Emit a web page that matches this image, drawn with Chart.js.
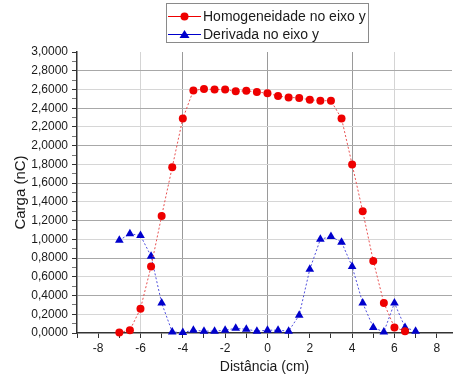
<!DOCTYPE html>
<html>
<head>
<meta charset="utf-8">
<script src="https://cdn.jsdelivr.net/npm/chart.js@4"></script>
<style>
  html, body { margin: 0; padding: 0; background: #fff; }
  #wrap { width: 455px; height: 378px; position: relative; }
</style>
</head>
<body>
<div id="wrap"><canvas id="c" width="455" height="378"></canvas></div>
<script>
// ---- data ----
const distanciaHomog = [-7,-6.5,-6,-5.5,-5,-4.5,-4,-3.5,-3,-2.5,-2,-1.5,-1,-0.5,0,0.5,1,1.5,2,2.5,3,3.5,4,4.5,5,5.5,6,6.5];
const homogeneidade = [0.005,0.03,0.26,0.71,1.25,1.77,2.29,2.59,2.605,2.60,2.60,2.58,2.585,2.573,2.56,2.53,2.515,2.51,2.49,2.48,2.48,2.29,1.80,1.30,0.77,0.32,0.06,0.02];
const distanciaDeriv = [-7,-6.5,-6,-5.5,-5,-4.5,-4,-3.5,-3,-2.5,-2,-1.5,-1,-0.5,0,0.5,1,1.5,2,2.5,3,3.5,4,4.5,5,5.5,6,6.5,7];
const derivada = [0.99,1.06,1.04,0.82,0.32,0.01,0.005,0.03,0.02,0.02,0.03,0.05,0.04,0.02,0.03,0.03,0.02,0.19,0.68,1.00,1.03,0.97,0.71,0.32,0.06,0.01,0.32,0.06,0.02];
const seriesNames = ['Homogeneidade no eixo y', 'Derivada no eixo y'];
const xTitle = 'Distância (cm)';
const yTitle = 'Carga (nC)';

const RED = '#ee0000', BLUE = '#0000cc';
const FONT = '"Liberation Sans", Arial, sans-serif';
const X_MIN = -9, X_MAX = 8.72;

function pts(xs, ys) { return xs.map((x, i) => ({ x: x, y: ys[i] })); }

const legendPlugin = {
  id: 'boxLegend',
  afterDraw(chart) {
    const ctx = chart.ctx;
    ctx.save();
    ctx.strokeStyle = '#8a8a8a';
    ctx.lineWidth = 1;
    ctx.strokeRect(166.5, 3.5, 202, 39);
    const rows = [
      { y: 16, color: RED, style: 'circle', text: seriesNames[0] },
      { y: 34, color: BLUE, style: 'triangle', text: seriesNames[1] }
    ];
    rows.forEach(r => {
      ctx.strokeStyle = r.color;
      ctx.lineWidth = 1;
      ctx.beginPath(); ctx.moveTo(168, r.y + 0.5); ctx.lineTo(201, r.y + 0.5); ctx.stroke();
      ctx.fillStyle = r.color;
      ctx.beginPath();
      if (r.style === 'circle') {
        ctx.arc(184.5, r.y + 0.5, 4, 0, Math.PI * 2);
      } else {
        ctx.moveTo(184.5, r.y - 4);
        ctx.lineTo(189.5, r.y + 4);
        ctx.lineTo(179.5, r.y + 4);
        ctx.closePath();
      }
      ctx.fill();
      ctx.fillStyle = '#1a1a1a';
      ctx.font = '14px ' + FONT;
      ctx.textBaseline = 'middle';
      ctx.textAlign = 'left';
      ctx.fillText(r.text, 203, r.y + 1);
    });
    ctx.restore();
  }
};

new Chart(document.getElementById('c'), {
  type: 'scatter',
  data: {
    datasets: [
      {
        label: seriesNames[0],
        data: pts(distanciaHomog, homogeneidade),
        showLine: true,
        borderColor: '#e85050',
        borderWidth: 1,
        borderDash: [2, 2],
        backgroundColor: RED,
        pointBackgroundColor: RED,
        pointBorderColor: RED,
        pointStyle: 'circle',
        pointRadius: 4,
        pointBorderWidth: 0,
        clip: false
      },
      {
        label: seriesNames[1],
        data: pts(distanciaDeriv, derivada),
        showLine: true,
        borderColor: '#5050dd',
        borderWidth: 1,
        borderDash: [2, 2],
        backgroundColor: BLUE,
        pointBackgroundColor: BLUE,
        pointBorderColor: BLUE,
        pointStyle: 'triangle',
        pointRadius: 5,
        pointBorderWidth: 0,
        clip: false
      }
    ]
  },
  options: {
    responsive: false,
    animation: false,
    layout: { autoPadding: false, padding: { top: 52, left: 0, right: 0, bottom: 0 } },
    plugins: { legend: { display: false }, tooltip: { enabled: false } },
    scales: {
      x: {
        type: 'linear',
        min: X_MIN, max: X_MAX,
        afterFit(s) { s.height = 45; },
        afterBuildTicks(s) {
          const t = [];
          for (let v = -9; v <= 8; v++) t.push({ value: v });
          t.push({ value: X_MAX });
          s.ticks = t;
        },
        border: { display: true, color: '#333', width: 1.5 },
        grid: {
          drawTicks: true,
          tickLength: 5,
          tickColor(c) {
            const v = c.tick ? c.tick.value : null;
            return Number.isInteger(v) ? '#333' : 'rgba(0,0,0,0)';
          },
          lineWidth: 1,
          color(c) {
            const v = c.tick ? c.tick.value : null;
            if (v === -4 || v === 0 || v === 4) return '#9a9a9a';
            if (v === -6 || v === 6) return '#d4d4d4';
            return 'rgba(0,0,0,0)';
          },
          borderDash: [1, 2]
        },
        ticks: {
          autoSkip: false, maxRotation: 0, padding: 3,
          color: '#1a1a1a',
          font: { family: FONT, size: 12 },
          callback(v) { return (Number.isInteger(v) && v % 2 === 0) ? String(v) : ''; }
        },
        title: {
          display: true, text: xTitle, color: '#1a1a1a',
          font: { family: FONT, size: 14 },
          padding: { top: 2, bottom: 2 }
        }
      },
      y: {
        min: 0, max: 3,
        afterFit(s) { s.width = 77; },
        afterBuildTicks(s) {
          const t = [];
          for (let i = 0; i <= 30; i++) t.push({ value: i / 10 });
          s.ticks = t;
        },
        border: { display: true, color: '#333', width: 1.5 },
        grid: {
          drawTicks: true,
          tickLength: 5,
          tickColor(c) {
            const k = c.tick ? Math.round(c.tick.value * 10) : 0;
            return k % 2 === 0 ? '#333' : '#777';
          },
          lineWidth: 1,
          color(c) {
            const k = c.tick ? Math.round(c.tick.value * 10) : 0;
            if (k === 0 || k === 30) return 'rgba(0,0,0,0)';
            if (k % 4 === 0) return '#a8a8a8';
            if (k % 2 === 0) return '#d6d6d6';
            return 'rgba(0,0,0,0)';
          },
          borderDash: [1, 2]
        },
        ticks: {
          autoSkip: false, padding: 4,
          color: '#1a1a1a',
          font: { family: FONT, size: 12 },
          callback(v) {
            const k = Math.round(v * 10);
            return k % 2 === 0 ? (k / 10).toFixed(4).replace('.', ',') : '';
          }
        },
        title: {
          display: true, text: yTitle, color: '#1a1a1a',
          font: { family: FONT, size: 15 },
          padding: { top: 12, bottom: 0 }
        }
      }
    }
  },
  plugins: [legendPlugin]
});
</script>
</body>
</html>
